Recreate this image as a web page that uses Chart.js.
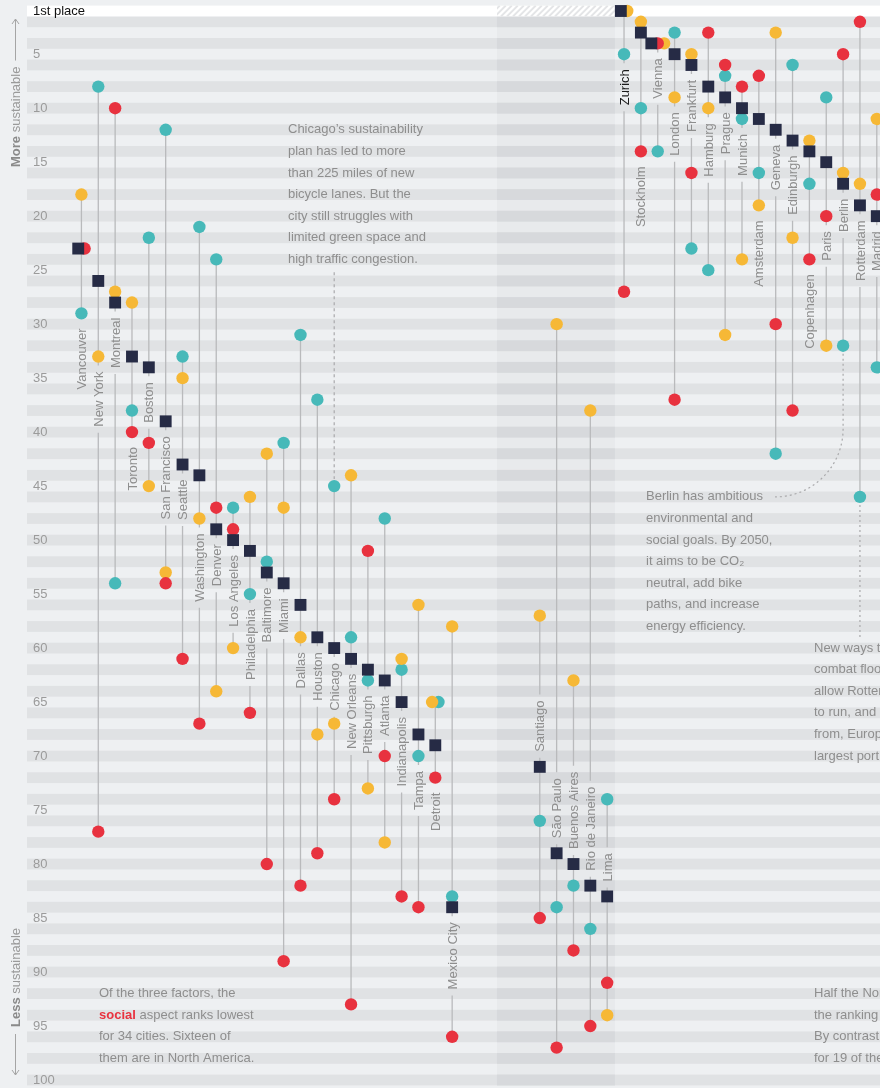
<!DOCTYPE html>
<html>
<head>
<meta charset="utf-8">
<script src="https://cdn.jsdelivr.net/npm/chart.js@4.4.1/dist/chart.umd.min.js"></script>
<style>
  html, body { margin: 0; padding: 0; background: #eef0f2; }
  canvas { display: block; }
</style>
</head>
<body>
<canvas id="chart" width="880" height="1088"></canvas>
<script>
// ranks (1 = most sustainable)
// red = social, teal = environment, yellow = economy, square = overall

var naCities  = ['Vancouver', 'New York', 'Montreal', 'Toronto', 'Boston', 'San Francisco', 'Seattle', 'Washington',
                 'Denver', 'Los Angeles', 'Philadelphia', 'Baltimore', 'Miami', 'Dallas', 'Houston', 'Chicago',
                 'New Orleans', 'Pittsburgh', 'Atlanta', 'Indianapolis', 'Tampa', 'Detroit', 'Mexico City'];
var naOverall = [23, 26, 28, 33, 34, 39, 43, 44, 49, 50, 51, 53, 54, 56, 59, 60, 61, 62, 63, 65, 68, 69, 84];
var naSocial  = [23, 77, 10, 40, 41, 54, 61, 67, 47, 49, 66, 80, 89, 82, 79, 74, 93, 51, 70, 83, 84, 72, 96];
var naPlanet  = [29, 8, 54, 38, 22, 12, 33, 21, 24, 47, 55, 52, 41, 31, 37, 45, 59, 63, 48, 62, 70, 65, 83];
var naProfit  = [18, 33, 27, 28, 45, 53, 35, 48, 64, 60, 46, 42, 47, 59, 68, 67, 44, 73, 78, 61, 56, 65, 58];

var saCities  = ['Santiago', 'São Paulo', 'Buenos Aires', 'Rio de Janeiro', 'Lima'];
var saOverall = [71, 79, 80, 82, 83];
var saSocial  = [85, 97, 88, 95, 91];
var saPlanet  = [76, 84, 82, 86, 74];
var saProfit  = [57, 30, 63, 38, 94];

var euCities  = ['Zurich', 'Stockholm', 'Vienna', 'London', 'Frankfurt', 'Hamburg', 'Prague', 'Munich',
                 'Amsterdam', 'Geneva', 'Edinburgh', 'Copenhagen', 'Paris', 'Berlin', 'Rotterdam', 'Madrid'];
var euOverall = [1, 3, 4, 5, 6, 8, 9, 10, 11, 12, 13, 14, 15, 17, 19, 20];
var euSocial  = [27, 14, 4, 37, 16, 3, 6, 8, 7, 30, 38, 24, 20, 5, 2, 18];
var euPlanet  = [5, 10, 14, 3, 23, 25, 7, 11, 16, 42, 6, 17, 9, 32, 46, 34];
var euProfit  = [1, 2, 4, 9, 5, 10, 31, 24, 19, 3, 22, 13, 32, 16, 17, 11];

var rankTicks = [1, 5, 10, 15, 20, 25, 30, 35, 40, 45, 50, 55, 60, 65, 70, 75, 80, 85, 90, 95, 100];

// layout
var FAMILY = '"Liberation Sans", Arial, Helvetica, sans-serif';
var FONT = '13px ' + FAMILY;
var RANK_PX = 10.8;
var NUDGE = 0.38;
var SA_PANEL = [24.66, 31.66];
var GREY_TEXT = '#8e8e8e';
var colors = { social: '#e8323f', planet: '#47b9b9', profit: '#f6b836', overall: '#262b45', stem: '#b9babc' };

var measure = document.createElement('canvas').getContext('2d');
measure.font = FONT;

var cities = [];
function addGroup(names, overall, social, planet, profit, start, above) {
  names.forEach(function (n, i) {
    cities.push({ name: n, x: start + i, overall: overall[i], social: social[i],
                  planet: planet[i], profit: profit[i], above: above });
  });
}
addGroup(naCities, naOverall, naSocial, naPlanet, naProfit, 0, false);
addGroup(saCities, saOverall, saSocial, saPlanet, saProfit, 27.2, true);
addGroup(euCities, euOverall, euSocial, euPlanet, euProfit, 32.2, false);

// label placement: next to the square, pushed past any dot in the way
cities.forEach(function (c) {
  var len = measure.measureText(c.name).width / RANK_PX;
  var gap = 15 / RANK_PX, clear = 10 / RANK_PX;
  var vals = [c.social, c.planet, c.profit];
  var anchor = c.overall, start, end, moved = true;
  while (moved) {
    moved = false;
    if (c.above) { end = anchor - gap; start = end - len; }
    else { start = anchor + gap; end = start + len; }
    vals.forEach(function (v) {
      if (!c.above && v > anchor && v <= end + clear) { anchor = v; moved = true; }
      if (c.above && v < anchor && v >= start - clear) { anchor = v; moved = true; }
    });
  }
  c.labStart = start; c.labEnd = end;

  var keys = ['overall', 'social', 'profit', 'planet'];
  c.dx = {};
  keys.forEach(function (k) {
    var same = keys.filter(function (j) { return c[j] === c[k]; });
    c.dx[k] = (same.indexOf(k) - (same.length - 1) / 2) * NUDGE;
  });
});

// stems, broken around the label
var stems = [];
cities.forEach(function (c) {
  var lo = Math.min(c.overall, c.social, c.planet, c.profit);
  var hi = Math.max(c.overall, c.social, c.planet, c.profit);
  var g = 6 / RANK_PX;
  var segs = [[lo, Math.min(hi, c.labStart - g)], [Math.max(lo, c.labEnd + g), hi]];
  segs.forEach(function (s) {
    if (s[1] > s[0]) {
      stems.push({ x: c.x, y: s[0] }, { x: c.x, y: s[1] }, { x: c.x, y: null });
    }
  });
});

function marks(key) {
  return cities.map(function (c) { return { x: c.x + c.dx[key], y: c[key] }; });
}

function textLines(ctx, y, x, firstRank, lines) {
  lines.forEach(function (t, i) {
    ctx.fillText(t, x, y.getPixelForValue(firstRank + 2 * i));
  });
}

var backdrop = {
  id: 'backdrop',
  beforeDraw: function (chart) {
    var ctx = chart.ctx, a = chart.chartArea, x = chart.scales.x, y = chart.scales.y;
    ctx.save();
    ctx.fillStyle = '#eef0f2';
    ctx.fillRect(0, 0, chart.width, chart.height);
    var px0 = x.getPixelForValue(SA_PANEL[0]), px1 = x.getPixelForValue(SA_PANEL[1]);
    ctx.fillStyle = '#e8eaec';
    ctx.fillRect(px0, a.top, px1 - px0, a.bottom - a.top);
    for (var r = 2; r <= 100; r += 2) {
      var t = y.getPixelForValue(r - 0.5), b = y.getPixelForValue(r + 0.5);
      ctx.fillStyle = '#e0e2e4';
      ctx.fillRect(a.left, t, a.right - a.left, b - t);
      ctx.fillStyle = '#d7d9dc';
      ctx.fillRect(px0, t, px1 - px0, b - t);
    }
    var t1 = y.getPixelForValue(0.5), b1 = y.getPixelForValue(1.5);
    ctx.fillStyle = '#ffffff';
    ctx.fillRect(a.left, t1, a.right - a.left, b1 - t1);
    // hatched first row over the South America panel
    ctx.beginPath();
    ctx.rect(px0, t1, px1 - px0, b1 - t1);
    ctx.clip();
    ctx.strokeStyle = '#e4e5e7';
    ctx.lineWidth = 2;
    for (var hx = px0 - 20; hx < px1 + 20; hx += 6) {
      ctx.beginPath();
      ctx.moveTo(hx, b1);
      ctx.lineTo(hx + (b1 - t1), t1);
      ctx.stroke();
    }
    ctx.restore();
  }
};

var overlay = {
  id: 'overlay',
  afterDatasetsDraw: function (chart) {
    var ctx = chart.ctx, x = chart.scales.x, y = chart.scales.y;
    ctx.save();
    ctx.font = FONT;
    ctx.textBaseline = 'middle';

    // city names, rotated
    cities.forEach(function (c) {
      ctx.save();
      ctx.translate(x.getPixelForValue(c.x) + 1, y.getPixelForValue(c.labEnd));
      ctx.rotate(-Math.PI / 2);
      ctx.fillStyle = c.overall === 1 ? '#1b1b1b' : GREY_TEXT;
      ctx.textAlign = 'left';
      ctx.fillText(c.name, 0, 0);
      ctx.restore();
    });

    // notes
    ctx.fillStyle = GREY_TEXT;
    ctx.textAlign = 'left';
    textLines(ctx, y, 288, 12, ['Chicago\u2019s sustainability', 'plan has led to more', 'than 225 miles of new',
      'bicycle lanes. But the', 'city still struggles with', 'limited green space and', 'high traffic congestion.']);
    textLines(ctx, y, 646, 46, ['Berlin has ambitious', 'environmental and', 'social goals. By 2050,',
      'it aims to be CO\u2082', 'neutral, add bike', 'paths, and increase', 'energy efficiency.']);
    textLines(ctx, y, 814, 60, ['New ways to', 'combat flooding', 'allow Rotterdam', 'to run, and benefit',
      'from, Europe\u2019s', 'largest port.']);
    textLines(ctx, y, 814, 92, ['Half the North American', 'the ranking are in its', 'By contrast, economy',
      'for 19 of the cities.']);
    textLines(ctx, y, 99, 92, ['Of the three factors, the', '', 'for 34 cities. Sixteen of', 'them are in North America.']);
    ctx.font = 'bold 13px ' + FAMILY;
    ctx.fillStyle = colors.social;
    var y94 = y.getPixelForValue(94);
    ctx.fillText('social', 99, y94);
    var w = ctx.measureText('social ').width;
    ctx.font = FONT;
    ctx.fillStyle = GREY_TEXT;
    ctx.fillText('aspect ranks lowest', 99 + w, y94);

    // leader lines
    ctx.strokeStyle = '#a9a9ab';
    ctx.lineWidth = 1.2;
    var chi = cities[naCities.indexOf('Chicago')];
    ctx.setLineDash([3, 3]);
    ctx.beginPath();
    ctx.moveTo(x.getPixelForValue(chi.x), y.getPixelForValue(25.2));
    ctx.lineTo(x.getPixelForValue(chi.x), y.getPixelForValue(chi.planet) - 7);
    ctx.stroke();

    ctx.setLineDash([2, 3]);
    var ber = cities[naCities.length + saCities.length + euCities.indexOf('Berlin')];
    var bx = x.getPixelForValue(ber.x), R = 68, ty = y.getPixelForValue(46);
    ctx.beginPath();
    ctx.moveTo(bx, y.getPixelForValue(ber.planet) + 8);
    ctx.lineTo(bx, ty - R);
    ctx.arc(bx - R, ty - R, R, 0, Math.PI / 2);
    ctx.stroke();

    var rot = cities[naCities.length + saCities.length + euCities.indexOf('Rotterdam')];
    var rx = x.getPixelForValue(rot.x);
    ctx.beginPath();
    ctx.moveTo(rx, y.getPixelForValue(rot.planet) + 8);
    ctx.lineTo(rx, y.getPixelForValue(59));
    ctx.stroke();
    ctx.setLineDash([]);

    // side titles with arrows
    function sideTitle(bold, rest, bottomY) {
      ctx.save();
      ctx.translate(16, bottomY);
      ctx.rotate(-Math.PI / 2);
      ctx.textAlign = 'left';
      ctx.font = 'bold 13px ' + FAMILY;
      ctx.fillStyle = '#8a8a8a';
      ctx.fillText(bold, 0, 0);
      var bw = ctx.measureText(bold + ' ').width;
      ctx.font = FONT;
      ctx.fillStyle = '#9a9a9a';
      ctx.fillText(rest, bw, 0);
      var tw = bw + ctx.measureText(rest).width;
      ctx.restore();
      return tw;
    }
    var topLen = sideTitle('More', 'sustainable', 167);
    sideTitle('Less', 'sustainable', 1027);
    ctx.strokeStyle = '#a5a5a5';
    ctx.lineWidth = 1;
    ctx.beginPath();
    ctx.moveTo(15.5, 167 - topLen - 6); ctx.lineTo(15.5, 19);
    ctx.moveTo(12, 24); ctx.lineTo(15.5, 19); ctx.lineTo(19, 24);
    ctx.moveTo(15.5, 1034); ctx.lineTo(15.5, 1075);
    ctx.moveTo(12, 1070); ctx.lineTo(15.5, 1075); ctx.lineTo(19, 1070);
    ctx.stroke();
    ctx.restore();
  }
};

var dot = { pointRadius: 6.2, pointHoverRadius: 6.2, pointBorderWidth: 0, clip: false };

new Chart(document.getElementById('chart'), {
  type: 'scatter',
  data: {
    datasets: [
      { label: 'Overall', data: marks('overall'), pointStyle: 'rect', pointRadius: 8.4, pointBorderWidth: 0,
        backgroundColor: colors.overall, order: 0, clip: false },
      Object.assign({ label: 'Social', data: marks('social'), backgroundColor: colors.social, order: 1 }, dot),
      Object.assign({ label: 'Economy', data: marks('profit'), backgroundColor: colors.profit, order: 2 }, dot),
      Object.assign({ label: 'Environment', data: marks('planet'), backgroundColor: colors.planet, order: 3 }, dot),
      { label: 'Range', data: stems, showLine: true, spanGaps: false, borderColor: colors.stem, borderWidth: 1.3,
        pointRadius: 0, order: 4, clip: false }
    ]
  },
  options: {
    responsive: false,
    animation: false,
    events: [],
    layout: { autoPadding: false, padding: { top: 5.6, bottom: 2.6, left: 0, right: 0 } },
    plugins: { legend: { display: false }, tooltip: { enabled: false } },
    scales: {
      x: { type: 'linear', min: -3.23, max: 47.39, display: false },
      y: {
        type: 'linear', reverse: true, min: 0.5, max: 100.5,
        grid: { display: false }, border: { display: false },
        afterBuildTicks: function (s) { s.ticks = rankTicks.map(function (v) { return { value: v }; }); },
        afterFit: function (s) { s.width = 27; s.paddingTop = 0; s.paddingBottom = 0; },
        ticks: {
          mirror: true, padding: 6, autoSkip: false,
          font: { size: 13, family: FAMILY },
          color: function (c) { return c.tick && c.tick.value === 1 ? '#111111' : '#9b9b9b'; },
          callback: function (v) { return v === 1 ? '1st place' : v; }
        }
      }
    }
  },
  plugins: [backdrop, overlay]
});
</script>
</body>
</html>
